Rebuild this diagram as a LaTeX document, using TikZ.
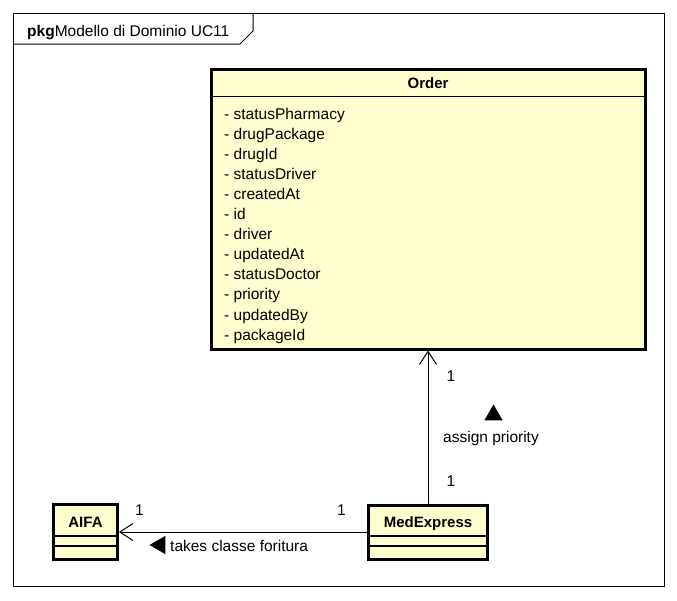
\documentclass[tikz,border=0pt]{standalone}
\usepackage{fontspec}
\setmainfont{Liberation Sans}
\usetikzlibrary{positioning,shapes.geometric,arrows.meta,calc}
\definecolor{umlyellow}{RGB}{254,254,206}

\begin{document}
\begin{tikzpicture}[x=1pt, y=-1pt,
    every node/.style={font=\fontsize{15.5}{18}\selectfont},
    classbox/.style={rectangle, draw=black, line width=3pt, fill=umlyellow, inner sep=0pt},
    ctitle/.style={anchor=base, inner sep=0pt, font=\fontsize{15}{18}\selectfont\bfseries},
    attr/.style={anchor=base west, inner sep=0pt},
    mult/.style={anchor=base, inner sep=0pt},
    marker/.style={regular polygon, regular polygon sides=3, fill=black, inner sep=0pt, minimum size=21pt},
    sep/.style={line width=1.2pt},
    assoc/.style={line width=1pt, -{Straight Barb[length=13pt, width=17pt]}}]
  \useasboundingbox (0,0) rectangle (677,600);
  % package frame
  \draw[line width=1pt] (13,13) rectangle (664,586);
  \draw[line width=1pt] (13,44) -- (240,44) -- (253,31) -- (253,13);
  \node[anchor=base west, inner sep=0pt] (pkg) at (27,36) {\textbf{pkg}Modello di Dominio UC11};
  % classes
  \node[classbox, minimum width=434pt, minimum height=280pt] (order) at (428,209) {};
  \node[classbox, minimum width=64pt, minimum height=55pt] (aifa) at (85.5,532) {};
  \node[classbox, minimum width=119pt, minimum height=54pt] (medexpress) at (428,532) {};
  \node[ctitle] (ordertitle) at (428,88) {Order};
  \node[ctitle] (aifatitle) at (85.5,527) {AIFA};
  \node[ctitle] (medtitle) at (428,527) {MedExpress};
  \draw[sep] ($(order.north west)+(0,29)$) -- ($(order.north east)+(0,29)$);
  \draw[sep] ($(aifa.west)+(0,4)$) -- ($(aifa.east)+(0,4)$);
  \draw[sep] ($(aifa.west)+(0,14)$) -- ($(aifa.east)+(0,14)$);
  \draw[sep] ($(medexpress.west)+(0,4)$) -- ($(medexpress.east)+(0,4)$);
  \draw[sep] ($(medexpress.west)+(0,14)$) -- ($(medexpress.east)+(0,14)$);
  \foreach \name [count=\i from 0] in {statusPharmacy, drugPackage, drugId, statusDriver,
      createdAt, id, driver, updatedAt, statusDoctor, priority, updatedBy, packageId}
    \node[attr] (attr\i) at (224,119+20.1*\i) {- \name};
  % associations
  \draw[assoc] (medexpress) -- (order);
  \draw[assoc] (medexpress) -- (aifa);
  \node[mult] (multorder) at (451,381) {1};
  \node[mult] (multmedup) at (451,486) {1};
  \node[mult] (multaifa) at (139.5,515) {1};
  \node[mult] (multmedleft) at (341.5,515) {1};
  \node[marker] (triassign) at (493.5,415) {};
  \node[mult] (lblassign) at (491,442) {assign priority};
  \node[marker, regular polygon rotate=90] (tritakes) at (160,545) {};
  \node[attr] (lbltakes) at (170,551.5) {takes classe foritura};
\end{tikzpicture}
\end{document}
